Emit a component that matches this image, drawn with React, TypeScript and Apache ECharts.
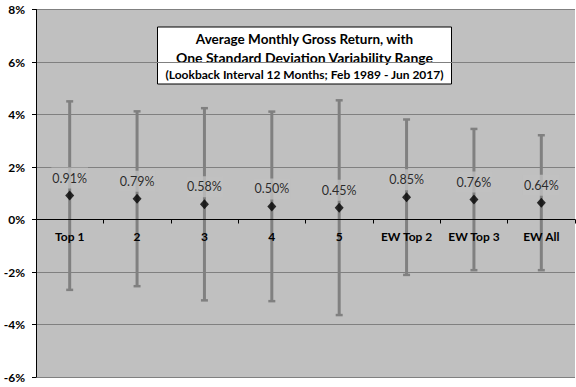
import React, { useEffect, useRef } from "react";
import * as echarts from "echarts";

const categories = ["Top 1", "2", "3", "4", "5", "EW Top 2", "EW Top 3", "EW All"];
const meanReturn = [0.91, 0.79, 0.58, 0.5, 0.45, 0.85, 0.76, 0.64];
const stdDev = [3.6, 3.34, 3.67, 3.62, 4.1, 2.97, 2.7, 2.58];
const yTicks = { min: -6, max: 8, interval: 2 };
const titleLines = [
  "Average Monthly Gross Return, with",
  "One Standard Deviation Variability Range",
  "(Lookback Interval 12 Months; Feb 1989 - Jun 2017)",
];

const FONT = "Lato, 'Open Sans', sans-serif";
const GRID_TOP = 9.5;
const GRID_BOTTOM = 10;
const H = 387;

export default function App() {
  const ref = useRef<HTMLDivElement>(null);
  useEffect(() => {
    if (!ref.current) return;
    const chart = echarts.init(ref.current, null, { renderer: "svg" });
    const errData = categories.map((_, i) => [i, meanReturn[i] - stdDev[i], meanReturn[i] + stdDev[i]]);
    const plotH = H - GRID_TOP - GRID_BOTTOM;
    const zeroOffset = (plotH * (0 - yTicks.min)) / (yTicks.max - yTicks.min);
    const option: any = {
      animation: false,
      backgroundColor: "#ffffff",
      textStyle: { fontFamily: FONT },
      grid: {
        left: 36,
        right: 1,
        top: GRID_TOP,
        bottom: GRID_BOTTOM,
        containLabel: false,
        outerBoundsMode: "none",
        show: true,
        backgroundColor: "#C0C0C0",
        borderWidth: 0,
      },
      xAxis: {
        type: "category",
        data: categories,
        position: "bottom",
        offset: -zeroOffset,
        axisLine: { onZero: false, lineStyle: { color: "#000", width: 1 } },
        axisTick: { show: true, length: 4, interval: 0, lineStyle: { color: "#000" } },
        axisLabel: {
          interval: 0,
          margin: 11,
          color: "#000",
          fontWeight: "bold",
          fontSize: 12,
          fontFamily: FONT,
          hideOverlap: false,
        },
        splitLine: { show: false },
        z: 3,
      },
      yAxis: {
        type: "value",
        min: yTicks.min,
        max: yTicks.max,
        interval: yTicks.interval,
        axisLine: { show: true, onZero: false, lineStyle: { color: "#000", width: 1 } },
        axisTick: { show: true, length: 4, lineStyle: { color: "#000" } },
        axisLabel: {
          formatter: (v: number) => `${v}%`,
          margin: 11,
          color: "#000",
          fontWeight: "bold",
          fontSize: 12,
          fontFamily: FONT,
        },
        splitLine: { show: true, lineStyle: { color: "#808080", width: 1 } },
      },
      graphic: [
        {
          type: "group",
          left: 157,
          top: 26.5,
          z: 100,
          children: [
            {
              type: "rect",
              shape: { x: 0, y: 0, width: 294, height: 57 },
              style: { fill: "#ffffff", stroke: "#000", lineWidth: 1 },
            },
            {
              type: "text",
              x: 147,
              y: 12,
              style: {
                text: titleLines[0],
                fill: "#000",
                font: `bold 13.5px ${FONT}`,
                textAlign: "center",
                textVerticalAlign: "middle",
              },
            },
            {
              type: "text",
              x: 147,
              y: 30.5,
              style: {
                text: titleLines[1],
                fill: "#000",
                font: `bold 14px ${FONT}`,
                textAlign: "center",
                textVerticalAlign: "middle",
              },
            },
            {
              type: "text",
              x: 147,
              y: 47.5,
              style: {
                text: titleLines[2],
                fill: "#000",
                font: `bold 12px ${FONT}`,
                textAlign: "center",
                textVerticalAlign: "middle",
              },
            },
          ],
        },
      ],
      series: [
        {
          type: "custom",
          data: errData,
          z: 2,
          encode: { x: 0, y: [1, 2] },
          renderItem: (params: any, api: any) => {
            const i = api.value(0);
            const lo = api.coord([i, api.value(1)]);
            const hi = api.coord([i, api.value(2)]);
            const x = lo[0];
            const style = { fill: "#808080", stroke: null };
            return {
              type: "group",
              children: [
                {
                  type: "rect",
                  shape: { x: x - 1.5, y: hi[1], width: 3, height: lo[1] - hi[1] },
                  style,
                },
                {
                  type: "rect",
                  shape: { x: x - 3.5, y: hi[1] - 1, width: 7, height: 2.5 },
                  style,
                },
                {
                  type: "rect",
                  shape: { x: x - 3.5, y: lo[1] - 1.5, width: 7, height: 2.5 },
                  style,
                },
              ],
            };
          },
        },
        {
          type: "scatter",
          data: meanReturn.map((v, i) => [i, v]),
          symbol: "diamond",
          symbolSize: [9, 10],
          itemStyle: { color: "#000" },
          z: 5,
          label: {
            show: true,
            position: "top",
            distance: 2,
            formatter: (p: any) => `${p.value[1].toFixed(2)}%`,
            color: "#000",
            fontSize: 12.5,
            fontWeight: "normal",
            fontFamily: FONT,
            backgroundColor: "#C0C0C0",
            padding: [4, 1, 4, 1],
          },
        },
      ],
    };
    chart.setOption(option);
    return () => chart.dispose();
  }, []);
  return <div ref={ref} style={{ width: 576, height: 387, position: "absolute", left: 0, top: 0 }} />;
}
